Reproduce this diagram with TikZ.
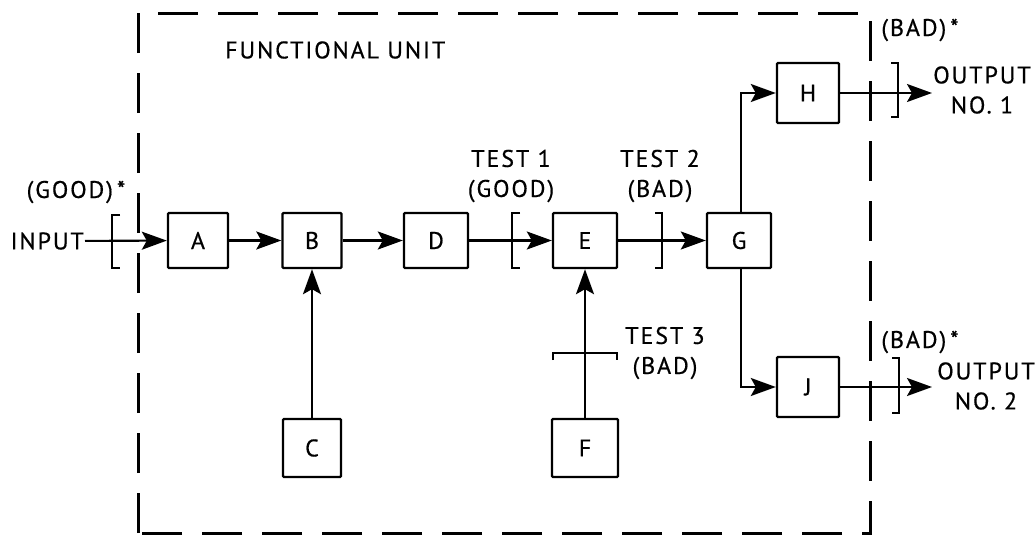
\documentclass[tikz,border=0pt]{standalone}
\usepackage{fontspec}
\setmainfont{PT Sans}[LetterSpace=8,FakeBold=0.6]
\usetikzlibrary{arrows.meta}
\begin{document}
\begin{tikzpicture}[x=1pt,y=-1pt,
  font=\fontsize{24}{30}\selectfont,
  blk/.style={draw, line width=2.4pt, minimum width=60pt, minimum height=55pt, inner sep=0pt, rounded corners=1pt},
  conn/.style={line width=2.1pt},
  arr/.style={conn, -{Stealth[length=25pt,width=18pt,inset=5pt]}},
  lbl/.style={inner sep=0pt, align=center},
  border/.style={line width=3pt, dash pattern=on 40pt off 20pt}]
\useasboundingbox (0,0) rectangle (1036,536);
\fill[white] (0,0) rectangle (1036,536);

% functional unit border
\draw[border] (138,533) -- (138,13) -- (870,13) -- (870,533) -- cycle;
\node[lbl, anchor=west] (fu) at (225,50) {FUNCTIONAL UNIT};

% blocks
\node[blk, minimum width=60pt] (A) at (198,240.5) {A};
\node[blk, minimum width=59pt] (B) at (312,240.5) {B};
\node[blk, minimum width=64pt] (D) at (436,240.5) {D};
\node[blk, minimum width=64pt] (E) at (585,240.5) {E};
\node[blk, minimum width=64pt] (G) at (739,240.5) {G};
\node[blk, minimum width=62pt, minimum height=60pt] (H) at (808,93) {H};
\node[blk, minimum width=62pt, minimum height=60pt] (J) at (808,387) {J};
\node[blk, minimum width=58pt, minimum height=58pt] (C) at (312,448) {C};
\node[blk, minimum width=66pt, minimum height=58pt] (F) at (585,448) {F};

% labels
\node[lbl, anchor=east, inner sep=1pt] (in) at (85,241) {INPUT};
\node[lbl] (good) at (76,192) {(GOOD)\,*};
\node[lbl] (t1) at (511,176) {TEST 1\\(GOOD)};
\node[lbl] (t2) at (660,176) {TEST 2\\(BAD)};
\node[lbl] (t3) at (665,353) {TEST 3\\(BAD)};
\node[lbl] (bad1) at (920,30) {(BAD)\,*};
\node[lbl] (bad2) at (920,342) {(BAD)\,*};
\node[lbl] (out1) at (982,90) {OUTPUT\\NO. 1};
\node[lbl] (out2) at (986,386) {OUTPUT\\NO. 2};

% end points
\coordinate (o1) at (932,93);
\coordinate (o2) at (932,387);

% brackets
\draw[conn] (120,215) -- (112,215) -- (112,268) -- (120,268);
\draw[conn] (520,213) -- (512,213) -- (512,268) -- (520,268);
\draw[conn] (655,213) -- (662,213) -- (662,268) -- (655,268);
\draw[conn] (553,360) -- (553,353) -- (617,353) -- (617,360);
\draw[conn] (891,63) -- (898,63) -- (898,117) -- (891,117);
\draw[conn] (892,358) -- (899,358) -- (899,413) -- (892,413);

% connectors
\draw[arr] (in) -- (A);
\draw[arr] (A) -- (B);
\draw[arr] (B) -- (D);
\draw[arr] (D) -- (E);
\draw[arr] (E) -- (G);
\draw[arr] ([xshift=2pt]G.north) |- (H.west);
\draw[arr] ([xshift=2pt]G.south) |- (J.west);
\draw[arr] (C) -- (B);
\draw[arr] (F) -- (E);
\draw[arr] (H) -- (o1);
\draw[arr] (J) -- (o2);
\end{tikzpicture}
\end{document}
